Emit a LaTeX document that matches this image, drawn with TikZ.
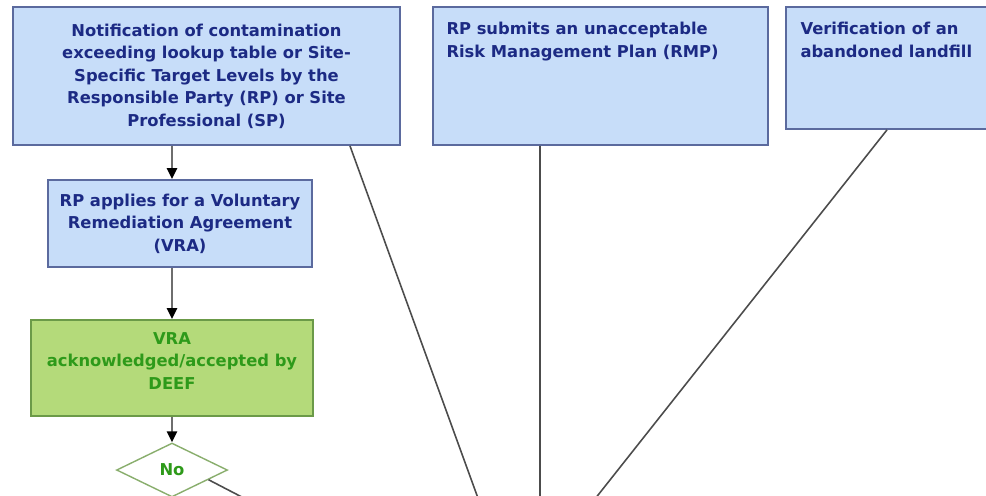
\documentclass[tikz,border=0pt]{standalone}
\usepackage{xcolor}
\usepackage{fontspec}
\setmainfont{DejaVu Sans}
\usepackage{tikz}
\usetikzlibrary{shapes.geometric, arrows.meta, positioning, calc}

\definecolor{boxblue}{HTML}{C7DDF9}
\definecolor{edgeblue}{HTML}{5B6A9E}
\definecolor{textblue}{HTML}{1C2A84}
\definecolor{boxgreen}{HTML}{B4DA7A}
\definecolor{edgegreen}{HTML}{6B9A48}
\definecolor{textgreen}{HTML}{2E9A1A}
\definecolor{linegray}{HTML}{6E6E6E}

\begin{document}
\begin{tikzpicture}[
  x=0.02cm, y=-0.02cm,
  font=\fontsize{9.3}{12.8}\selectfont\bfseries,
  box/.style={rectangle, draw=edgeblue, fill=boxblue, line width=1pt, text=textblue, align=center, inner sep=0pt},
  okbox/.style={rectangle, draw=edgegreen, fill=boxgreen, line width=1pt, text=textgreen, align=center, inner sep=0pt},
  choice/.style={diamond, draw=edgegreen!80, fill=white, line width=0.8pt, text=textgreen, inner sep=0pt, minimum width=2.22cm, minimum height=1.08cm},
  boxtext/.style={text=textblue, align=left, inner sep=0pt, anchor=north west},
  arrow/.style={-{Triangle[length=2.2mm, width=2mm, color=black]}, draw=linegray, line width=1.5pt},
  link/.style={draw=black!70, line width=0.9pt},
]

\useasboundingbox (0,0) rectangle (986,495);
\clip (0,0) rectangle (986,495);

% Top row
\node[box, minimum width=7.74cm, minimum height=2.76cm] (notif) at (206.5,76)
  {Notification of contamination\\exceeding lookup table or Site-\\Specific Target Levels by the\\Responsible Party (RP) or Site\\Professional (SP)};
\node[box, minimum width=6.7cm, minimum height=2.76cm] (rmp) at (600.5,76) {};
\node[boxtext, below right=0.32cm and 0.28cm of rmp.north west] (rmptext)
  {RP submits an unacceptable\\Risk Management Plan (RMP)};
\node[box, minimum width=4.28cm, minimum height=2.44cm] (landfill) at (893,68) {};
\node[boxtext, below right=0.32cm and 0.3cm of landfill.north west] (landfilltext)
  {Verification of an\\abandoned landfill};

% Left column
\node[box, minimum width=5.28cm, minimum height=1.74cm] (apply) at (180,223.5)
  {RP applies for a Voluntary\\Remediation Agreement\\(VRA)};
\node[okbox, minimum width=5.64cm, minimum height=1.92cm] (accept) at (172,368)
  {VRA\\acknowledged/accepted by\\DEEF\\[-4.8pt]};
\node[choice] (no) at (172,470) {No};

% Ends below the frame
\coordinate (merge) at (515,600);
\coordinate (below) at (540,600);
\coordinate (noend) at (440,600);

% Arrows
\draw[arrow] (notif.south -| accept.north) -- (apply.north -| accept.north);
\draw[arrow] (apply.south -| accept.north) -- (accept.north);
\draw[arrow] (accept.south) -- (no.north);

% Lines
\draw[link] ([xshift=2.87cm]notif.south) -- (merge);
\draw[link] ([xshift=-1.21cm]rmp.south) -- (below);
\draw[link] ([xshift=-0.12cm]landfill.south) -- (merge);
\draw[link] ($(no.east)!0.35!(no.south)$) -- (noend);

\end{tikzpicture}
\end{document}
